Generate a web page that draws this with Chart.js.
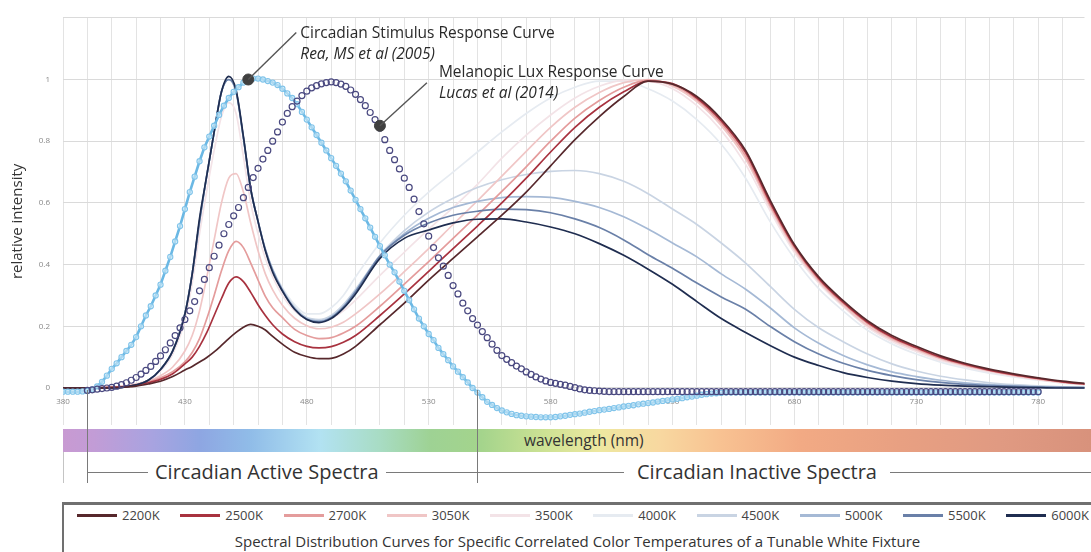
<!DOCTYPE html>
<html>
<head>
<meta charset="utf-8">
<script src="https://cdn.jsdelivr.net/npm/chart.js@4.4.1/dist/chart.umd.min.js"></script>
<style>
  body { margin: 0; background: #fff; font-family: "Open Sans", sans-serif; }
  #wrap { position: relative; width: 1091px; height: 552px; overflow: hidden; background: #fff; }
  #chart { position: absolute; left: 0; top: 0; }
  #spectrum {
    position: absolute; left: 63px; top: 429px; width: 1028px; height: 23px;
    background: linear-gradient(to right, #c89ad2 0%, #c29cd6 3%, #a9a3e0 8.5%, #8ea6e2 13.3%,
      #90bce8 18.2%, #b2e2f2 25%, #a8dcc4 30.8%, #9ed294 35.7%, #a4d48c 40.7%, #cde294 46.9%,
      #eee8a0 52.2%, #f8d8a0 58%, #f8c292 63.9%, #f2aa84 71.7%, #e8a082 81.4%, #e09a82 91.1%, #d8927c 100%);
  }
  #wl { position: absolute; left: 524px; top: 429px; height: 23px; line-height: 23px; font-size: 15.5px; color: #333; }
  .hline { position: absolute; height: 1px; background: #7a7a7a; }
  .vline { position: absolute; width: 1px; background: #7a7a7a; }
  .span-label { position: absolute; top: 458px; font-size: 20px; line-height: 28px; color: #333; background: #fff; }
  #legend {
    position: absolute; left: 62px; top: 502px; width: 1040px; height: 60px;
    border-top: 3px solid #707070; border-left: 2px solid #707070; background: #fff;
  }
  #legItems { position: absolute; left: 13px; top: 2px; width: 1012px; height: 16px; display: flex; justify-content: space-between; }
  .item { display: flex; align-items: center; font-size: 13px; color: #444; }
  .swatch { width: 40px; height: 3px; margin-right: 5px; }
  #legTitle { position: absolute; left: 0; top: 26px; width: 1027px; text-align: center; font-size: 15px; color: #333; }
</style>
</head>
<body>
<div id="wrap">
  <canvas id="chart" width="1091" height="552"></canvas>
  <div id="spectrum"></div>
  <div id="wl">wavelength (nm)</div>
  <div id="legend">
    <div id="legItems"></div>
    <div id="legTitle">Spectral Distribution Curves for Specific Correlated Color Temperatures of a Tunable White Fixture</div>
  </div>
</div>
<script>
// wavelength sampling of the fixture curves (nm)
const cctWavelengths = [380, 390, 400, 405, 410, 415, 420, 425,
  430, 433, 436, 439, 442, 445, 448, 451, 454, 457, 460, 463, 466,
  470, 475, 480, 485, 490, 495, 500,
  510, 520, 530, 540, 550, 560, 570, 580, 590, 600, 610, 620, 630, 640, 650, 660, 670, 680, 690, 700,
  710, 720, 730, 740, 750, 760, 770, 780, 790, 800];

const cctLabels = ['2200K', '2500K', '2700K', '3050K', '3500K', '4000K', '4500K', '5000K', '5500K', '6000K'];
const cctColors = ['#57282c', '#a8323f', '#e49c9c', '#f0c6c6', '#f3e3e7', '#e6ebf1', '#c9d4e3', '#a5b9d5', '#6a80a8', '#1f2d50'];

const cct2200 = [0, 0, 0.001, 0.003, 0.006, 0.013, 0.022, 0.037,
  0.058, 0.07, 0.084, 0.099, 0.117, 0.138, 0.16, 0.18, 0.197, 0.206, 0.2, 0.188, 0.167,
  0.142, 0.116, 0.102, 0.095, 0.096, 0.11, 0.135,
  0.205, 0.275, 0.35, 0.42, 0.49, 0.56, 0.635, 0.72, 0.805, 0.88, 0.945, 0.995, 0.985, 0.945, 0.872, 0.77, 0.61, 0.465, 0.36, 0.283,
  0.218, 0.17, 0.135, 0.104, 0.08, 0.061, 0.046, 0.033, 0.022, 0.014];
const cct2500 = [0, 0, 0.002, 0.004, 0.009, 0.017, 0.028, 0.046,
  0.078, 0.1, 0.135, 0.18, 0.235, 0.29, 0.34, 0.36, 0.345, 0.31, 0.27, 0.235, 0.205,
  0.175, 0.15, 0.135, 0.13, 0.134, 0.148, 0.17,
  0.235, 0.305, 0.378, 0.452, 0.525, 0.6, 0.68, 0.765, 0.845, 0.91, 0.96, 0.995, 0.987, 0.94, 0.866, 0.763, 0.602, 0.46, 0.355, 0.278,
  0.213, 0.165, 0.131, 0.1, 0.077, 0.058, 0.043, 0.031, 0.02, 0.012];
const cct2700 = [0, 0, 0.002, 0.005, 0.011, 0.02, 0.033, 0.053,
  0.085, 0.115, 0.16, 0.225, 0.3, 0.38, 0.445, 0.475, 0.455, 0.405, 0.35, 0.297, 0.26,
  0.228, 0.19, 0.17, 0.16, 0.163, 0.178, 0.2,
  0.265, 0.337, 0.41, 0.485, 0.56, 0.637, 0.717, 0.8, 0.875, 0.932, 0.975, 0.998, 0.983, 0.935, 0.858, 0.752, 0.594, 0.455, 0.35, 0.274,
  0.209, 0.161, 0.128, 0.097, 0.075, 0.057, 0.042, 0.03, 0.019, 0.012];
const cct3050 = [0, 0, 0.003, 0.006, 0.013, 0.023, 0.04, 0.068,
  0.12, 0.17, 0.25, 0.36, 0.48, 0.6, 0.68, 0.695, 0.635, 0.535, 0.445, 0.37, 0.318,
  0.268, 0.226, 0.202, 0.192, 0.197, 0.213, 0.24,
  0.305, 0.377, 0.452, 0.53, 0.607, 0.687, 0.767, 0.845, 0.91, 0.958, 0.99, 1.0, 0.978, 0.928, 0.85, 0.742, 0.586, 0.448, 0.345, 0.268,
  0.202, 0.156, 0.123, 0.094, 0.072, 0.055, 0.04, 0.028, 0.018, 0.011];
const cct3500 = [0, 0, 0.002, 0.005, 0.012, 0.025, 0.055, 0.11,
  0.22, 0.34, 0.5, 0.64, 0.77, 0.88, 0.925, 0.89, 0.75, 0.6, 0.5, 0.42, 0.36,
  0.3, 0.25, 0.222, 0.215, 0.225, 0.25, 0.285,
  0.365, 0.44, 0.515, 0.585, 0.66, 0.745, 0.82, 0.885, 0.94, 0.978, 0.997, 0.995, 0.97, 0.915, 0.835, 0.725, 0.575, 0.44, 0.34, 0.264,
  0.197, 0.151, 0.118, 0.089, 0.069, 0.052, 0.038, 0.027, 0.017, 0.011];
const cct4000 = [0, 0, 0, 0.003, 0.01, 0.025, 0.06, 0.12,
  0.24, 0.37, 0.54, 0.69, 0.83, 0.96, 1.0, 0.96, 0.81, 0.645, 0.54, 0.45, 0.385,
  0.325, 0.27, 0.24, 0.24, 0.26, 0.3, 0.36,
  0.47, 0.56, 0.635, 0.7, 0.765, 0.83, 0.89, 0.94, 0.975, 0.995, 0.995, 0.97, 0.93, 0.87, 0.79, 0.68, 0.54, 0.42, 0.322, 0.25,
  0.187, 0.143, 0.11, 0.084, 0.064, 0.048, 0.036, 0.025, 0.016, 0.01];
const cct4500 = [0, 0, 0, 0.003, 0.01, 0.025, 0.06, 0.12,
  0.24, 0.37, 0.54, 0.69, 0.83, 0.96, 1.0, 0.96, 0.81, 0.645, 0.54, 0.45, 0.385,
  0.32, 0.262, 0.228, 0.222, 0.235, 0.27, 0.32,
  0.43, 0.51, 0.57, 0.615, 0.65, 0.675, 0.692, 0.702, 0.705, 0.695, 0.67, 0.63, 0.58, 0.53, 0.47, 0.405, 0.33, 0.255, 0.195, 0.15,
  0.11, 0.078, 0.055, 0.038, 0.026, 0.017, 0.011, 0.007, 0.004, 0.002];
const cct5000 = [0, 0, 0, 0.003, 0.01, 0.025, 0.06, 0.12,
  0.24, 0.37, 0.54, 0.69, 0.83, 0.96, 1.0, 0.96, 0.81, 0.645, 0.54, 0.45, 0.383,
  0.318, 0.258, 0.225, 0.217, 0.23, 0.264, 0.315,
  0.428, 0.5, 0.55, 0.585, 0.605, 0.617, 0.62, 0.618, 0.605, 0.585, 0.555, 0.515, 0.47, 0.425, 0.37, 0.32, 0.26, 0.195, 0.145, 0.105,
  0.075, 0.052, 0.037, 0.025, 0.017, 0.011, 0.007, 0.004, 0.002, 0.001];
const cct5500 = [0, 0, 0, 0.003, 0.01, 0.025, 0.06, 0.12,
  0.24, 0.37, 0.54, 0.69, 0.83, 0.96, 1.0, 0.962, 0.812, 0.645, 0.54, 0.447, 0.38,
  0.316, 0.256, 0.223, 0.215, 0.228, 0.262, 0.312,
  0.428, 0.495, 0.535, 0.56, 0.573, 0.58, 0.578, 0.568, 0.548, 0.52, 0.48, 0.432, 0.388, 0.34, 0.295, 0.255, 0.2, 0.15, 0.11, 0.08,
  0.057, 0.04, 0.027, 0.018, 0.012, 0.008, 0.005, 0.003, 0.002, 0.001];
const cct6000 = [0, 0, 0, 0.003, 0.01, 0.025, 0.06, 0.12,
  0.24, 0.37, 0.55, 0.69, 0.83, 0.96, 1.01, 0.965, 0.815, 0.645, 0.54, 0.445, 0.375,
  0.314, 0.255, 0.222, 0.212, 0.225, 0.258, 0.305,
  0.42, 0.485, 0.512, 0.535, 0.547, 0.548, 0.538, 0.522, 0.5, 0.468, 0.43, 0.385, 0.336, 0.28, 0.225, 0.18, 0.138, 0.1, 0.073, 0.05,
  0.034, 0.022, 0.014, 0.009, 0.006, 0.004, 0.002, 0.001, 0, 0];
const cctSeries = [cct2200, cct2500, cct2700, cct3050, cct3500, cct4000, cct4500, cct5000, cct5500, cct6000];

// response curves, 2 nm steps from 380 to 780 nm
const responseWavelengths = Array.from({ length: 201 }, (_, i) => 380 + 2 * i);

const circadianStimulus = [
  -0.012, -0.012, -0.012, -0.012, -0.011, -0.01, -0.005, 0.005, 0.02, 0.04,
  0.062, 0.08, 0.1, 0.12, 0.14, 0.165, 0.2, 0.235, 0.265, 0.3,
  0.335, 0.38, 0.425, 0.475, 0.525, 0.58, 0.635, 0.685, 0.735, 0.78,
  0.815, 0.85, 0.885, 0.915, 0.94, 0.96, 0.975, 0.99, 1.0, 1.003,
  1.003, 1.0, 0.995, 0.99, 0.982, 0.97, 0.955, 0.94, 0.92, 0.895,
  0.87, 0.845, 0.82, 0.795, 0.77, 0.745, 0.72, 0.695, 0.67, 0.64,
  0.61, 0.58, 0.55, 0.52, 0.49, 0.46, 0.43, 0.4, 0.375, 0.345,
  0.315, 0.285, 0.255, 0.225, 0.2, 0.175, 0.155, 0.13, 0.11, 0.09,
  0.07, 0.053, 0.035, 0.018, 0.0, -0.015, -0.03, -0.045, -0.055, -0.065,
  -0.073, -0.079, -0.084, -0.088, -0.09, -0.092, -0.093, -0.094, -0.095, -0.095,
  -0.095, -0.094, -0.092, -0.09, -0.087, -0.085, -0.083, -0.08, -0.077, -0.075,
  -0.072, -0.07, -0.068, -0.065, -0.063, -0.06, -0.058, -0.056, -0.053, -0.051,
  -0.049, -0.047, -0.044, -0.042, -0.04, -0.037, -0.035, -0.033, -0.03, -0.028,
  -0.025, -0.022, -0.02, -0.018, -0.017, -0.016, -0.015, -0.015, -0.015, -0.015,
  -0.015, -0.015, -0.015, -0.015, -0.015, -0.015, -0.015, -0.015, -0.015, -0.015,
  -0.015, -0.015, -0.015, -0.015, -0.015, -0.015, -0.015, -0.015, -0.015, -0.015,
  -0.015, -0.015, -0.015, -0.015, -0.015, -0.015, -0.015, -0.015, -0.015, -0.015,
  -0.015, -0.015, -0.015, -0.015, -0.015, -0.015, -0.015, -0.015, -0.015, -0.015,
  -0.015, -0.015, -0.015, -0.015, -0.015, -0.015, -0.015, -0.015, -0.015, -0.015,
  -0.015, -0.015, -0.015, -0.015, -0.015, -0.015, -0.015, -0.015, -0.015, -0.015,
  -0.015];

const melanopicLux = [
  null, null, null, null, null, -0.008, -0.006, -0.004, -0.002, 0.0,
  0.002, 0.006, 0.011, 0.017, 0.025, 0.034, 0.045, 0.057, 0.07, 0.086,
  0.104, 0.124, 0.146, 0.17, 0.195, 0.222, 0.25, 0.28, 0.315, 0.352,
  0.39, 0.427, 0.463, 0.5, 0.53, 0.558, 0.585, 0.617, 0.65, 0.682,
  0.712, 0.742, 0.77, 0.8, 0.83, 0.862, 0.89, 0.912, 0.93, 0.948,
  0.962, 0.973, 0.98, 0.986, 0.99, 0.992, 0.99, 0.985, 0.978, 0.966,
  0.952, 0.935, 0.915, 0.893, 0.87, 0.843, 0.805, 0.77, 0.74, 0.71,
  0.68, 0.65, 0.612, 0.572, 0.532, 0.492, 0.455, 0.422, 0.395, 0.365,
  0.332, 0.305, 0.275, 0.25, 0.225, 0.204, 0.183, 0.163, 0.142, 0.122,
  0.105, 0.093, 0.082, 0.071, 0.062, 0.052, 0.044, 0.036, 0.029, 0.023,
  0.018, 0.015, 0.012, 0.009, 0.005, 0.001, -0.003, -0.006, -0.008, -0.009,
  -0.01, -0.011, -0.012, -0.012, -0.012, -0.012, -0.012, -0.012, -0.012, -0.012,
  -0.012, -0.012, -0.012, -0.012, -0.012, -0.012, -0.012, -0.012, -0.012, -0.012,
  -0.012, -0.012, -0.012, -0.012, -0.012, -0.012, -0.012, -0.012, -0.012, -0.012,
  -0.012, -0.012, -0.012, -0.012, -0.012, -0.012, -0.012, -0.012, -0.012, -0.012,
  -0.012, -0.012, -0.012, -0.012, -0.012, -0.012, -0.012, -0.012, -0.012, -0.012,
  -0.012, -0.012, -0.012, -0.012, -0.012, -0.012, -0.012, -0.012, -0.012, -0.012,
  -0.012, -0.012, -0.012, -0.012, -0.012, -0.012, -0.012, -0.012, -0.012, -0.012,
  -0.012, -0.012, -0.012, -0.012, -0.012, -0.012, -0.012, -0.012, -0.012, -0.012,
  -0.012, -0.012, -0.012, -0.012, -0.012, -0.012, -0.012, -0.012, -0.012, -0.012,
  -0.012];

// highlighted points with their captions
const calloutWavelengths = [456, 510];
const calloutValues = [1.0, 0.85];
const calloutTitles = ['Circadian Stimulus Response Curve', 'Melanopic Lux Response Curve'];
const calloutRefs = ['Rea, MS et al (2005)', 'Lucas et al (2014)'];

// axes
const xGridWavelengths = Array.from({ length: 42 }, (_, i) => 380 + 10 * i);
const xTickLabels = [380, 430, 480, 530, 580, 630, 680, 730, 780];
const yTicks = [0, 0.2, 0.4, 0.6, 0.8, 1, 1.2];
const yTickLabels = ['0', '0.2', '0.4', '0.6', '0.8', '1', ''];

// active / inactive spectra bounds (nm)
const activeRange = [390, 550];

Chart.defaults.font.family = '"Open Sans", sans-serif';

const toPoints = (xs, ys) => xs.map((x, i) => ({ x: x, y: ys[i] }));

// draw order: lower number is drawn on top
const cctOrder = [3, 4, 5, 6, 7, 7, 6, 5, 4, 3];

const datasets = [
  {
    label: 'callouts',
    data: toPoints(calloutWavelengths, calloutValues),
    showLine: false,
    pointRadius: 5.5,
    pointBackgroundColor: '#404040',
    pointBorderColor: '#404040',
    order: 0
  },
  {
    label: 'Melanopic Lux Response Curve',
    data: toPoints(responseWavelengths, melanopicLux),
    showLine: false,
    pointRadius: 3,
    pointBorderWidth: 1.2,
    pointBorderColor: '#4a4980',
    pointBackgroundColor: 'rgba(255,255,255,0)',
    order: 1
  },
  {
    label: 'Circadian Stimulus Response Curve',
    data: toPoints(responseWavelengths, circadianStimulus),
    borderColor: '#6bb8e4',
    borderWidth: 2.6,
    pointRadius: 2.6,
    pointBorderWidth: 1.1,
    pointBorderColor: '#80c4ea',
    pointBackgroundColor: 'rgba(215,238,250,0.6)',
    order: 2
  }
];

cctSeries.forEach((vals, i) => {
  datasets.push({
    label: cctLabels[i],
    data: toPoints(cctWavelengths, vals),
    borderColor: cctColors[i],
    borderWidth: 1.7,
    pointRadius: 0,
    cubicInterpolationMode: 'monotone',
    order: cctOrder[i]
  });
});

const calloutPlugin = {
  id: 'callouts',
  afterDatasetsDraw(chart) {
    const { ctx, scales } = chart;
    // offsets of the leader line end and of the text, per callout
    const leader = [[48, -47], [47, -43]];
    const textPos = [[52, -46], [59, -53]];
    ctx.save();
    calloutWavelengths.forEach((w, i) => {
      const px = scales.x.getPixelForValue(w);
      const py = scales.y.getPixelForValue(calloutValues[i]);
      ctx.strokeStyle = '#555';
      ctx.lineWidth = 1.4;
      ctx.beginPath();
      ctx.moveTo(px, py);
      ctx.lineTo(px + leader[i][0], py + leader[i][1]);
      ctx.stroke();
      ctx.fillStyle = '#2a2a2a';
      ctx.textBaseline = 'middle';
      ctx.textAlign = 'left';
      ctx.font = '15.5px "Open Sans"';
      ctx.fillText(calloutTitles[i], px + textPos[i][0], py + textPos[i][1]);
      ctx.font = 'italic 15.5px "Open Sans"';
      ctx.fillText(calloutRefs[i], px + textPos[i][0], py + textPos[i][1] + 21);
    });
    ctx.restore();
  }
};

const chart = new Chart(document.getElementById('chart'), {
  type: 'line',
  data: { datasets: datasets },
  options: {
    responsive: false,
    animation: false,
    layout: { padding: { top: 15, right: 0, bottom: 127, left: 0 } },
    plugins: {
      legend: { display: false },
      tooltip: { enabled: false }
    },
    scales: {
      x: {
        type: 'linear',
        min: 380,
        max: 799,
        position: { y: 0 },
        afterBuildTicks: (scale) => { scale.ticks = xGridWavelengths.map(v => ({ value: v })); },
        grid: { color: '#e3e3e3', drawTicks: false },
        border: { display: false },
        ticks: {
          autoSkip: false,
          maxRotation: 0,
          padding: 9,
          color: '#888',
          font: { size: 8 },
          callback: (value) => xTickLabels.includes(value) ? String(value) : ''
        }
      },
      y: {
        min: -0.12,
        max: 1.2,
        afterBuildTicks: (scale) => { scale.ticks = yTicks.map(v => ({ value: v })); },
        afterFit: (scale) => { scale.width = 63; },
        grid: { color: '#dadada', drawTicks: false },
        border: { display: false },
        ticks: {
          padding: 13,
          color: '#888',
          font: { size: 8 },
          callback: (value) => yTickLabels[yTicks.indexOf(value)]
        },
        title: {
          display: true,
          text: 'relative intensity',
          color: '#333',
          font: { size: 15 },
          padding: { top: 9, bottom: 0 }
        }
      }
    }
  },
  plugins: [calloutPlugin]
});

// spectra brackets under the colour bar
const wrap = document.getElementById('wrap');
const xScale = chart.scales.x;
function addDiv(cls, css, text) {
  const d = document.createElement('div');
  d.className = cls;
  Object.assign(d.style, css);
  if (text) d.textContent = text;
  wrap.appendChild(d);
  return d;
}
const xStart = xScale.getPixelForValue(activeRange[0]);
const xSplit = xScale.getPixelForValue(activeRange[1]);
addDiv('hline', { left: xStart + 'px', top: '472px', width: (1091 - xStart) + 'px' });
addDiv('vline', { left: chart.chartArea.left + 'px', top: '452px', height: '31px', background: '#c4c4c4' });
addDiv('vline', { left: xStart + 'px', top: '390px', height: '93px' });
addDiv('vline', { left: xSplit + 'px', top: '390px', height: '93px' });
addDiv('span-label', { left: '148px', padding: '0 7px' }, 'Circadian Active Spectra');
addDiv('span-label', { left: '624px', padding: '0 13px' }, 'Circadian Inactive Spectra');

// legend row
const legItems = document.getElementById('legItems');
cctLabels.forEach((lab, i) => {
  const item = document.createElement('div');
  item.className = 'item';
  const sw = document.createElement('span');
  sw.className = 'swatch';
  sw.style.background = cctColors[i];
  const t = document.createElement('span');
  t.textContent = lab;
  item.appendChild(sw);
  item.appendChild(t);
  legItems.appendChild(item);
});
</script>
</body>
</html>
